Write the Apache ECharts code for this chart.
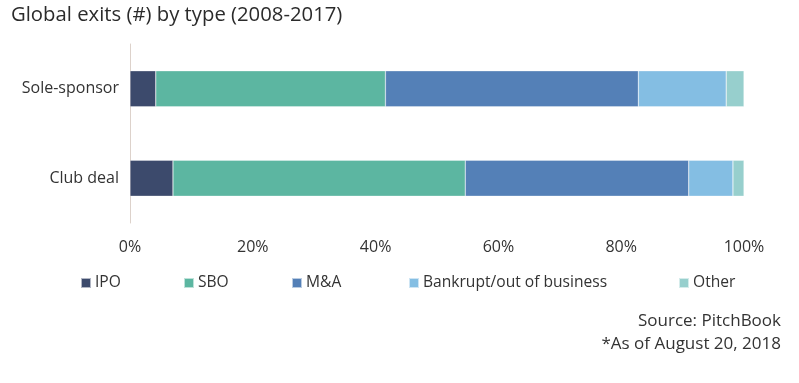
<!DOCTYPE html>
<html>
<head>
<meta charset="utf-8">
<script src="https://cdn.jsdelivr.net/npm/echarts@6/dist/echarts.min.js"></script>
<style>html,body{margin:0;padding:0;background:#fff;}#c{width:799px;height:383px;}</style>
</head>
<body>
<div id="c"></div>
<script>
const categories = ['Club deal', 'Sole-sponsor'];
const seriesNames = ['IPO', 'SBO', 'M&A', 'Bankrupt/out of business', 'Other'];
const ipo = [7.0, 4.2];
const sbo = [47.6, 37.4];
const ma = [36.4, 41.2];
const bankrupt = [7.2, 14.3];
const other = [1.8, 2.9];
const xTicks = [0, 20, 40, 60, 80, 100];
const colors = ['#3c4a6c', '#5cb6a1', '#5480b7', '#84bee3', '#97cfcd'];

const values = [ipo, sbo, ma, bankrupt, other];
const legendLeft = [75, 178, 286, 403, 673];
const font = 'Open Sans';

const chart = echarts.init(document.getElementById('c'), null, {renderer: 'canvas'});
chart.setOption({
  animation: false,
  backgroundColor: '#fff',
  title: [
    {text: 'Global exits (#) by type (2008-2017)', left: 6, top: 0,
     textStyle: {fontFamily: font, fontSize: 20.3, fontWeight: 'normal', color: '#2b2b2b'}},
    {text: 'Source: PitchBook', right: 13, top: 308,
     textStyle: {fontFamily: font, fontSize: 17, fontWeight: 'normal', color: '#333'}},
    {text: '*As of August 20, 2018', right: 13, top: 331,
     textStyle: {fontFamily: font, fontSize: 17, fontWeight: 'normal', color: '#333'}}
  ],
  legend: seriesNames.map((n, i) => ({
    data: [n], left: legendLeft[i], top: 270, itemWidth: 10, itemHeight: 10, itemGap: 4,
    icon: 'rect',
    textStyle: {fontFamily: font, fontSize: 15.6, color: '#333', padding: [0, 0, 0, -1]}
  })),
  grid: {left: 130, right: 55, top: 44, height: 179},
  xAxis: {
    type: 'value', min: 0, max: 100, interval: 20,
    axisLine: {show: false}, axisTick: {show: false}, splitLine: {show: false},
    axisLabel: {formatter: v => xTicks.includes(v) ? v + '%' : '', margin: 16,
      fontFamily: font, fontSize: 16, color: '#333'}
  },
  yAxis: {
    type: 'category', data: categories,
    axisLine: {show: true, lineStyle: {color: '#ddd2cb', width: 1}},
    axisTick: {show: false},
    axisLabel: {margin: 11, fontFamily: font, fontSize: 16, color: '#333'}
  },
  series: seriesNames.map((n, i) => ({
    name: n, type: 'bar', stack: 'total', data: values[i], barWidth: 36,
    itemStyle: {color: colors[i], borderColor: 'rgba(255,255,255,0.6)', borderWidth: 0.5},
    emphasis: {disabled: true}
  }))
});
</script>
</body>
</html>
